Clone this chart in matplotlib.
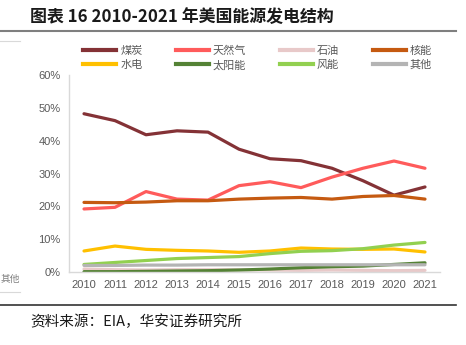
import numpy as np
import matplotlib
matplotlib.use('Agg')
import matplotlib.pyplot as plt
from matplotlib.lines import Line2D

plt.rcParams['font.family'] = ['Liberation Sans', 'Noto Sans CJK SC', 'DejaVu Sans']

years = ['2010', '2011', '2012', '2013', '2014', '2015', '2016', '2017', '2018', '2019', '2020', '2021']

coal    = [48.2, 46.1, 41.8, 43.0, 42.6, 37.4, 34.5, 33.9, 31.6, 27.8, 23.4, 25.9]
gas     = [19.2, 19.7, 24.5, 22.2, 21.9, 26.3, 27.5, 25.7, 28.9, 31.6, 33.8, 31.6]
oil     = [0.9, 0.7, 0.6, 0.7, 0.7, 0.7, 0.6, 0.5, 0.6, 0.5, 0.4, 0.5]
nuclear = [21.2, 21.1, 21.3, 21.7, 21.7, 22.2, 22.5, 22.7, 22.2, 23.0, 23.3, 22.2]
hydro   = [6.4, 7.9, 6.9, 6.6, 6.4, 6.0, 6.4, 7.3, 7.0, 6.9, 7.0, 6.1]
solar   = [0.1, 0.1, 0.2, 0.3, 0.4, 0.6, 0.9, 1.3, 1.6, 1.8, 2.3, 2.8]
wind    = [2.3, 2.9, 3.5, 4.1, 4.4, 4.7, 5.6, 6.3, 6.5, 7.1, 8.2, 9.0]
other   = [2.0, 2.0, 2.1, 2.1, 2.2, 2.2, 2.2, 2.2, 2.2, 2.2, 2.2, 2.2]

names  = ['煤炭', '天然气', '石油', '核能', '水电', '太阳能', '风能', '其他']
series = [coal, gas, oil, nuclear, hydro, solar, wind, other]
colors = ['#843236', '#FF5B5B', '#E8C9C9', '#C55A11', '#FFC000', '#548235', '#92D050', '#B4B4B4']

fig = plt.figure(figsize=(4.66, 3.45), dpi=100)
ax = fig.add_axes([69/466, 1 - 272/345, (440 - 69)/466, (272 - 75)/345])

x = np.arange(len(years))
lines = {}
for name, vals, c in zip(names, series, colors):
    ln, = ax.plot(x, vals, color=c, lw=2.3, solid_capstyle='round', label=name)
    lines[name] = ln

ax.set_xlim(-0.484, 11.484)
ax.set_ylim(0, 60)
ax.set_yticks(np.arange(0, 61, 10))
ax.set_yticklabels([f'{v}%' for v in range(0, 61, 10)])
ax.set_xticks(x)
ax.set_xticklabels(years)
ax.tick_params(length=0, labelsize=8, colors='#595959', pad=6)
for s in ['top', 'right']:
    ax.spines[s].set_visible(False)
for s in ['left', 'bottom']:
    ax.spines[s].set_color('#D9D9D9')
    ax.spines[s].set_linewidth(1.0)

# legend: two rows of four, column-major order
order = ['煤炭', '水电', '天然气', '太阳能', '石油', '风能', '核能', '其他']
handles = [Line2D([], [], color=lines[n].get_color(), lw=3) for n in order]
fig.legend(handles, order, ncol=4, loc='center left', bbox_to_anchor=(83/466, 1 - 58/345),
           frameon=False, handlelength=3.0, handletextpad=0.35,
           columnspacing=3.0, labelspacing=0.35, borderpad=0, borderaxespad=0,
           labelcolor='#595959', prop={'family': ['Noto Sans CJK SC'], 'size': 8})

# title and frame lines
fig.text(30/466, 1 - 17/345, '图表 16 2010-2021 年美国能源发电结构', fontsize=12.2,
         fontweight='bold', va='center', ha='left', color='#1a1a1a',
         family=['Noto Sans CJK SC', 'DejaVu Sans'])
fig.add_artist(Line2D([0, 456/466], [1 - 31/345] * 2, color='#7F7F7F', lw=1.5))
fig.add_artist(Line2D([0, 456/466], [1 - 305/345] * 2, color='#333333', lw=1.2))
fig.text(30/466, 1 - 322/345, '资料来源：EIA，华安证券研究所', fontsize=10.5, va='center',
         ha='left', color='#1a1a1a', family=['Noto Sans CJK SC', 'DejaVu Sans'])

# leftover bits of neighbouring chart at left edge
fig.add_artist(Line2D([0, 20/466], [1 - 41/345] * 2, color='#D9D9D9', lw=0.8))
fig.add_artist(Line2D([0, 20/466], [1 - 292/345] * 2, color='#D9D9D9', lw=0.8))
fig.text(1/466, 1 - 279/345, '其他', fontsize=7, va='center', ha='left', color='#7F7F7F',
         family=['Noto Sans CJK SC'])

fig.savefig('out.png', dpi=100)
